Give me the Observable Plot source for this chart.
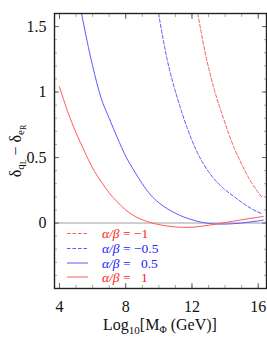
<!DOCTYPE html>
<html><head><meta charset="utf-8">
<script src="https://cdn.jsdelivr.net/npm/d3@7"></script>
<script src="https://cdn.jsdelivr.net/npm/@observablehq/plot@0.6"></script>
<style>
body{margin:0;background:#fff}
#chart{width:267px;height:347px}
#chart svg, #chart svg text{font-family:'Liberation Serif','Times New Roman','DejaVu Serif',serif !important}
</style>
</head><body><div id="chart"></div>
<script>
// ---- data ----
const xMajorTicks = [4, 8, 12, 16];
const xMinorTicks = [4, 5, 6, 7, 8, 9, 10, 11, 12, 13, 14, 15, 16];
const yMajorTicks = [0, 0.5, 1, 1.5];
const yMinorTicks = [-0.4, -0.3, -0.2, -0.1, 0, 0.1, 0.2, 0.3, 0.4, 0.5, 0.6, 0.7, 0.8, 0.9, 1, 1.1, 1.2, 1.3, 1.4, 1.5];

const seriesNames = ["α/β = −1", "α/β = −0.5", "α/β = 0.5", "α/β = 1"];
const seriesNumbers = ["−1", "−0.5", "0.5", "1"];

// α/β = −1 (red dashed)
const xRedDashed = [12.35, 12.8, 13.3, 13.9, 14.56, 15.0, 15.4, 15.85, 16.28];
const yRedDashed = [1.6, 1.3, 1.04, 0.8, 0.57, 0.45, 0.35, 0.26, 0.19];
// α/β = −0.5 (blue dashed)
const xBlueDashed = [9.98, 10.5, 11.13, 11.7, 12.24, 12.75, 13.25, 13.9, 14.56, 15.1, 15.58, 16.25];
const yBlueDashed = [1.6, 1.25, 0.95, 0.73, 0.56, 0.44, 0.35, 0.265, 0.2, 0.15, 0.11, 0.07];
// α/β = 0.5 (blue solid)
const xBlueSolid = [5.33, 6, 6.5, 7, 7.5, 8, 8.5, 9, 9.5, 10, 10.5, 11, 11.5, 12, 12.5, 13, 13.5, 14, 14.5, 15, 15.5, 16, 16.3];
const yBlueSolid = [1.6, 1.2, 0.96, 0.8, 0.65, 0.51, 0.4, 0.3, 0.215, 0.155, 0.11, 0.075, 0.046, 0.025, 0.008, -0.003, -0.008, -0.008, -0.005, 0.0, 0.008, 0.016, 0.022];
// α/β = 1 (red solid)
const xRedSolid = [4, 4.5, 5, 5.5, 6, 6.5, 7, 7.5, 8, 8.5, 9, 9.5, 10, 10.5, 11, 11.5, 12, 12.5, 13, 13.5, 14, 14.5, 15, 15.5, 16, 16.3];
const yRedSolid = [1.04, 0.85, 0.69, 0.55, 0.42, 0.32, 0.23, 0.16, 0.10, 0.055, 0.025, 0.003, -0.012, -0.023, -0.03, -0.033, -0.032, -0.026, -0.017, -0.007, 0.004, 0.014, 0.025, 0.035, 0.044, 0.05];

const seriesX = [xRedDashed, xBlueDashed, xBlueSolid, xRedSolid];
const seriesY = [yRedDashed, yBlueDashed, yBlueSolid, yRedSolid];

// ---- styles ----
const lineColors = ["#ff5a5a", "#5a5aff", "#5a5aff", "#ff5a5a"];
const textColors = ["#ff2020", "#2020ff", "#2020ff", "#ff2020"];
const dashes = ["3.5,2", "3.5,2", null, null];

const rows = [];
seriesNames.forEach((s, i) => seriesX[i].forEach((x, j) => rows.push({s, x, y: seriesY[i][j]})));

const font = "'Liberation Serif', 'Times New Roman', 'DejaVu Serif', serif";

const chart = Plot.plot({
  width: 267,
  height: 347,
  marginLeft: 54,
  marginRight: 1,
  marginTop: 13,
  marginBottom: 59,
  style: {fontFamily: font, fontSize: "15px", background: "#fff", color: "#111"},
  x: {domain: [3.7, 16.5]},
  y: {domain: [-0.5, 1.6]},
  marks: [
    Plot.ruleY([0], {stroke: "#cfcfcf", strokeWidth: 2}),
    ...seriesNames.map((s, i) => Plot.line(rows.filter(d => d.s === s), {
      x: "x", y: "y", stroke: lineColors[i], strokeWidth: 1,
      strokeDasharray: dashes[i], curve: "monotone-x", clip: true
    })),
    // minor ticks
    Plot.axisX(xMinorTicks, {anchor: "bottom", tickSize: -3, stroke: "#aaa", tickFormat: () => "", label: null}),
    Plot.axisX(xMinorTicks, {anchor: "top", tickSize: -3, stroke: "#aaa", tickFormat: () => "", label: null}),
    Plot.axisY(yMinorTicks, {anchor: "left", tickSize: -3, stroke: "#aaa", tickFormat: () => "", label: null}),
    Plot.axisY(yMinorTicks, {anchor: "right", tickSize: -3, stroke: "#aaa", tickFormat: () => "", label: null}),
    // major ticks
    Plot.axisX(xMajorTicks, {anchor: "bottom", tickSize: -5, stroke: "#666", tickFormat: () => "", label: null}),
    Plot.axisX(xMajorTicks, {anchor: "top", tickSize: -5, stroke: "#666", tickFormat: () => "", label: null}),
    Plot.axisY(yMajorTicks, {anchor: "left", tickSize: -5, stroke: "#666", tickFormat: () => "", label: null}),
    Plot.axisY(yMajorTicks, {anchor: "right", tickSize: -5, stroke: "#666", tickFormat: () => "", label: null}),
    // labels
    Plot.axisX(xMajorTicks, {anchor: "bottom", tickSize: 0, tickPadding: 12, label: null, fontSize: 16, tickFormat: d => String(d)}),
    Plot.axisY(yMajorTicks, {anchor: "left", tickSize: 0, tickPadding: 8, label: null, fontSize: 16, tickFormat: d => String(d)}),
    Plot.frame({stroke: "#222", strokeWidth: 1.4})
  ]
});

document.getElementById("chart").appendChild(chart);
const svg = d3.select(chart);

// x label
const xl = svg.append("text").attr("x", 160).attr("y", 330).attr("text-anchor", "middle")
  .attr("font-family", font).attr("font-size", 16).attr("fill", "#111");
xl.append("tspan").text("Log");
xl.append("tspan").attr("dy", 4).attr("font-size", 11).text("10");
xl.append("tspan").attr("dy", -4).text("[M");
xl.append("tspan").attr("dy", 3).attr("font-size", 10).text("Φ");
xl.append("tspan").attr("dy", -3).text(" (GeV)]");

// y label
const yl = svg.append("text").attr("transform", "translate(21,151) rotate(-90)").attr("text-anchor", "middle")
  .attr("font-family", font).attr("font-size", 16).attr("fill", "#111");
yl.append("tspan").text("δ");
yl.append("tspan").attr("dy", 3).attr("font-size", 11).text("q");
yl.append("tspan").attr("dy", 2).attr("font-size", 8).text("L");
yl.append("tspan").attr("dy", -5).text(" − δ");
yl.append("tspan").attr("dy", 3).attr("font-size", 11).text("e");
yl.append("tspan").attr("dy", 2).attr("font-size", 8).text("R");

// legend
const legendY = [233.5, 248.5, 263, 277];
const numShift = [0, 0, 7, 7];
const lg = svg.append("g").attr("font-family", font).attr("font-size", 13.5).attr("text-anchor", "start");
seriesNames.forEach((s, i) => {
  lg.append("line").attr("x1", 67).attr("x2", 88).attr("y1", legendY[i]).attr("y2", legendY[i])
    .attr("stroke", lineColors[i]).attr("stroke-width", 1).attr("stroke-dasharray", dashes[i]);
  const t = lg.append("text").attr("x", 102).attr("y", legendY[i] + 4.5).attr("fill", textColors[i]).attr("text-anchor", "start");
  t.append("tspan").attr("font-style", "italic").text("α/β");
  t.append("tspan").text(" = ");
  t.append("tspan").attr("dx", numShift[i]).text(seriesNumbers[i]);
});
</script>
</body></html>
